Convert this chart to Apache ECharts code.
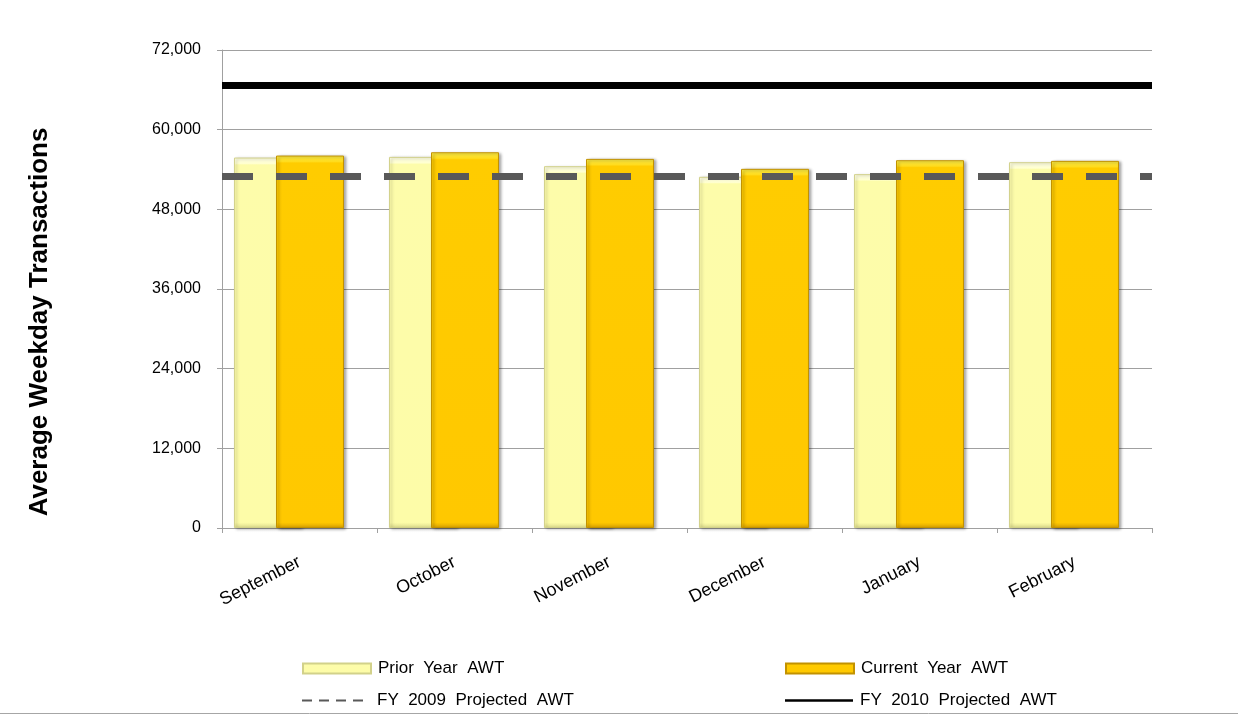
<!DOCTYPE html>
<html>
<head>
<meta charset="utf-8">
<script src="https://cdn.jsdelivr.net/npm/echarts@6/dist/echarts.min.js"></script>
<style>
  html, body { margin: 0; padding: 0; background: #ffffff; }
  #chart { width: 1238px; height: 715px; }
</style>
</head>
<body>
<div id="chart"></div>
<script>
// Monthly average weekday transactions (AWT)
const months = ['September', 'October', 'November', 'December', 'January', 'February'];
const priorYearAWT = [55800, 55900, 54500, 52900, 53300, 55100];
const currentYearAWT = [56100, 56600, 55600, 54100, 55400, 55300];
const fy2009Projected = [53000];
const fy2010Projected = [66700];
// Value axis ticks
const yMin = 0;
const yMax = 72000;
const yStep = 12000;

const FONT = '"Liberation Sans", Arial, Helvetica, sans-serif';
const axisGray = '#a0a0a0';

const priorFill = {
  type: 'linear', x: 0, y: 0, x2: 0, y2: 1,
  colorStops: [
    { offset: 0, color: '#ffffe6' },
    { offset: 0.016, color: '#ffffd0' },
    { offset: 0.02, color: '#fdfcaa' },
    { offset: 0.985, color: '#fdfca8' },
    { offset: 1, color: '#dcdb8c' }
  ]
};
const currentFill = {
  type: 'linear', x: 0, y: 0, x2: 0, y2: 1,
  colorStops: [
    { offset: 0, color: '#fff04a' },
    { offset: 0.016, color: '#ffdc1e' },
    { offset: 0.02, color: '#ffcc00' },
    { offset: 0.985, color: '#ffc800' },
    { offset: 1, color: '#d9a200' }
  ]
};

const barGap = '-38.2%';

// legend labels are set with roomy word spacing
const legendText = {
  fontFamily: FONT, fontSize: 17, color: '#000', padding: [0, 0, 0, 2]
};
const spaced = name => name.split(' ').join('  ');

const chart = echarts.init(document.getElementById('chart'), null, { renderer: 'canvas' });

chart.setOption({
  animation: false,
  backgroundColor: '#ffffff',
  grid: { left: 222, right: 86, top: 50, bottom: 187, containLabel: false },
  xAxis: {
    type: 'category',
    data: months,
    boundaryGap: true,
    axisLine: { show: true, lineStyle: { color: axisGray, width: 1 } },
    axisTick: { show: true, length: 5, lineStyle: { color: axisGray } },
    axisLabel: {
      rotate: 27,
      margin: 33,
      fontFamily: FONT,
      fontSize: 18,
      color: '#000000'
    },
    splitLine: { show: false }
  },
  yAxis: {
    type: 'value',
    min: yMin,
    max: yMax,
    interval: yStep,
    axisLine: { show: true, lineStyle: { color: axisGray, width: 1 } },
    axisTick: { show: true, length: 5, lineStyle: { color: axisGray } },
    axisLabel: {
      margin: 21,
      fontFamily: FONT,
      fontSize: 16,
      color: '#000000',
      formatter: v => v.toLocaleString('en-US')
    },
    splitLine: { show: true, lineStyle: { color: axisGray, width: 1 } }
  },
  legend: [
    {
      data: [{ name: 'Prior Year AWT', icon: 'rect' }],
      left: 302, top: 660, padding: 0, itemWidth: 68, itemHeight: 10,
      selectedMode: false, formatter: spaced, textStyle: legendText
    },
    {
      data: [{ name: 'Current Year AWT', icon: 'rect' }],
      left: 785, top: 660, padding: 0, itemWidth: 68, itemHeight: 10,
      selectedMode: false, formatter: spaced, textStyle: legendText
    },
    {
      data: [{
        name: 'FY 2009 Projected AWT',
        icon: 'path://M0,0h10v2h-10z M17,0h10v2h-10z M34,0h10v2h-10z M51,0h10v2h-10z',
        itemStyle: { color: '#595959' }
      }],
      left: 302, top: 692, padding: 0, itemWidth: 61, itemHeight: 2,
      selectedMode: false, formatter: spaced,
      textStyle: Object.assign({}, legendText, { padding: [0, 0, 0, 9] })
    },
    {
      data: [{
        name: 'FY 2010 Projected AWT',
        icon: 'path://M0,0h68v2.5h-68z',
        itemStyle: { color: '#000000' }
      }],
      left: 785, top: 692, padding: 0, itemWidth: 68, itemHeight: 2.5,
      selectedMode: false, formatter: spaced, textStyle: legendText
    }
  ],
  graphic: [
    {
      type: 'text',
      x: 40, y: 322,
      rotation: Math.PI / 2,
      style: {
        text: 'Average Weekday Transactions',
        font: 'bold 26px ' + FONT,
        fill: '#000000',
        align: 'center',
        verticalAlign: 'middle'
      }
    },
    {
      type: 'line',
      shape: { x1: 0, y1: 713.5, x2: 1238, y2: 713.5 },
      style: { stroke: '#a6a6a6', lineWidth: 1 }
    }
  ],
  series: [
    {
      name: 'Prior Year AWT',
      type: 'bar',
      data: priorYearAWT,
      barWidth: 68,
      barGap: barGap,
      itemStyle: {
        color: priorFill,
        borderColor: '#d2d18a',
        borderWidth: 1,
        shadowColor: 'rgba(0,0,0,0.25)',
        shadowBlur: 3,
        shadowOffsetX: 2,
        shadowOffsetY: 1
      }
    },
    {
      name: 'Current Year AWT',
      type: 'bar',
      data: currentYearAWT,
      barWidth: 68,
      barGap: barGap,
      itemStyle: {
        color: currentFill,
        borderColor: '#c29200',
        borderWidth: 1,
        shadowColor: 'rgba(0,0,0,0.35)',
        shadowBlur: 3,
        shadowOffsetX: 2,
        shadowOffsetY: 1
      }
    },
    {
      // empty slot that sets the cluster's position within each month
      name: 'slot',
      type: 'bar',
      data: [],
      barWidth: 47,
      barGap: barGap,
      silent: true,
      itemStyle: { color: 'rgba(0,0,0,0)' }
    },
    {
      name: 'FY 2009 Projected AWT',
      type: 'line',
      data: [],
      symbol: 'none',
      lineStyle: { color: '#595959', width: 2, type: 'dashed' },
      markLine: {
        silent: true,
        symbol: 'none',
        label: { show: false },
        lineStyle: { color: '#595959', width: 7, type: [31, 23] },
        data: fy2009Projected.map(v => ({ yAxis: v })),
        z: 5
      }
    },
    {
      name: 'FY 2010 Projected AWT',
      type: 'line',
      data: [],
      symbol: 'none',
      lineStyle: { color: '#000000', width: 2 },
      markLine: {
        silent: true,
        symbol: 'none',
        label: { show: false },
        lineStyle: { color: '#000000', width: 7, type: 'solid' },
        data: fy2010Projected.map(v => ({ yAxis: v })),
        z: 5
      }
    }
  ]
});
</script>
</body>
</html>
